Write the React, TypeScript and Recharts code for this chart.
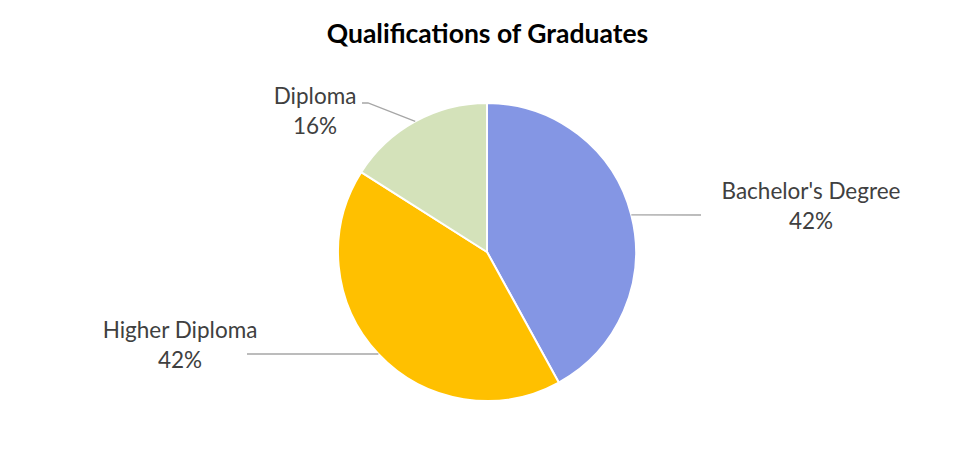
import React from 'react';
import { PieChart, Pie, Cell } from 'recharts';

const categories = ["Bachelor's Degree", 'Higher Diploma', 'Diploma'];
const shares = [42, 42, 16];
const percentLabels = ['42%', '42%', '16%'];

const colors = ['#8496E4', '#FFC000', '#D4E2BA'];

// where each label's text sits and where its leader line bends, relative to pie centre
const labelLayout = [
  { tx: 324, ty: -53, lineTo: [{ x: 214, y: -37 }] },
  { tx: -307, ty: 86, lineTo: [{ x: -240, y: 102 }] },
  { tx: -172, ty: -148, lineTo: [{ x: -119, y: -149 }, { x: -125, y: -149 }] },
];

const data = categories.map((name, i) => ({ name, value: shares[i], pct: percentLabels[i] }));

const CX = 482;
const CY = 247;
const R = 149;
const RADIAN = Math.PI / 180;
const FONT = 'Lato, "Open Sans", sans-serif';

const renderLabel = (props: any) => {
  const { cx, cy, midAngle, outerRadius, index } = props;
  const sx = cx + outerRadius * Math.cos(-midAngle * RADIAN);
  const sy = cy + outerRadius * Math.sin(-midAngle * RADIAN);
  const lay = labelLayout[index];
  const pts = [[sx, sy], ...lay.lineTo.map((p) => [cx + p.x, cy + p.y])];
  const d = pts.map((p, i) => `${i ? 'L' : 'M'}${p[0]},${p[1]}`).join(' ');
  return (
    <g key={`lbl-${index}`}>
      <path d={d} stroke="#A6A6A6" strokeWidth={1.3} fill="none" />
      <text
        x={cx + lay.tx}
        y={cy + lay.ty}
        textAnchor="middle"
        fill="#404040"
        fontFamily={FONT}
        fontSize={22.5}
      >
        <tspan x={cx + lay.tx} dy="0">{data[index].name}</tspan>
        <tspan x={cx + lay.tx} dy="30">{data[index].pct}</tspan>
      </text>
    </g>
  );
};

export default function App() {
  return (
    <div style={{ position: 'absolute', left: 0, top: 0, width: 975, height: 450, background: '#fff' }}>
      <div
        style={{
          position: 'absolute',
          left: 0,
          top: 17,
          width: 975,
          textAlign: 'center',
          fontFamily: FONT,
          fontWeight: 'bold',
          fontSize: 26.5,
          color: '#000',
        }}
      >
        Qualifications of Graduates
      </div>
      <PieChart width={975} height={450} style={{ position: 'absolute', left: 0, top: 0 }}>
        <Pie
          data={data}
          dataKey="value"
          nameKey="name"
          cx={CX}
          cy={CY}
          outerRadius={R}
          startAngle={90}
          endAngle={-270}
          stroke="#FFFFFF"
          strokeWidth={2}
          label={renderLabel}
          labelLine={false}
          isAnimationActive={false}
        >
          {data.map((d, i) => (
            <Cell key={d.name} fill={colors[i]} />
          ))}
        </Pie>
      </PieChart>
    </div>
  );
}
